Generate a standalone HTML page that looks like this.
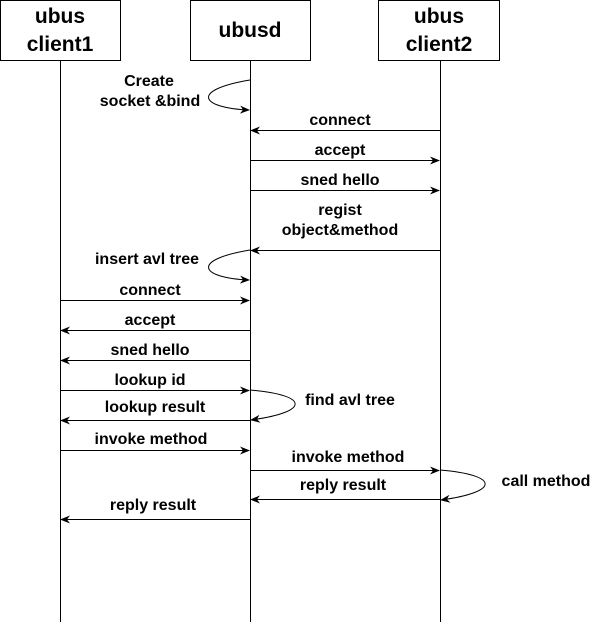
<!DOCTYPE html>
<html><head><style>html,body{margin:0;padding:0;background:#fff}</style></head>
<body>
<svg width="597" height="622" viewBox="0 0 597 622" xmlns="http://www.w3.org/2000/svg" font-family="Liberation Sans, Arial, sans-serif" font-weight="bold">
<defs>
<marker id="a" markerWidth="10" markerHeight="8" refX="9" refY="4" orient="auto" markerUnits="userSpaceOnUse">
<path d="M0,0 L10,4 L0,8 L3,4 Z" fill="#000"/>
</marker>
</defs>
<g stroke="#000" fill="none" stroke-width="1">
<line x1="60.5" y1="60" x2="60.5" y2="622"/>
<line x1="250.5" y1="60" x2="250.5" y2="622"/>
<line x1="440.5" y1="60" x2="440.5" y2="622"/>
<rect x="0.5" y="0.5" width="120" height="60" fill="#fff"/>
<rect x="190.5" y="0.5" width="120" height="60" fill="#fff"/>
<rect x="378.5" y="0.5" width="121" height="60" fill="#fff"/>
<g marker-end="url(#a)">
<path d="M250,80 C190,90 200,108 249,110"/>
<line x1="440" y1="130.5" x2="251" y2="130.5"/>
<line x1="250" y1="160.5" x2="439" y2="160.5"/>
<line x1="250" y1="190.5" x2="439" y2="190.5"/>
<line x1="440" y1="250.5" x2="251" y2="250.5"/>
<path d="M250,250 C190,260 200,278 249,280"/>
<line x1="60" y1="300.5" x2="249" y2="300.5"/>
<line x1="250" y1="330.5" x2="61" y2="330.5"/>
<line x1="250" y1="360.5" x2="61" y2="360.5"/>
<line x1="60" y1="390.5" x2="249" y2="390.5"/>
<path d="M250,390 C310,395 310,412 251,420"/>
<line x1="250" y1="420.5" x2="61" y2="420.5"/>
<line x1="60" y1="450.5" x2="249" y2="450.5"/>
<line x1="250" y1="470.5" x2="439" y2="470.5"/>
<path d="M440,470 C500,475 500,492 441,500"/>
<line x1="440" y1="499.5" x2="251" y2="499.5"/>
<line x1="250" y1="519.5" x2="61" y2="519.5"/>
</g>
</g>
<g font-size="21" text-anchor="middle" fill="#000">
<text x="60" y="23">ubus</text><text x="60" y="51">client1</text>
<text x="250" y="37">ubusd</text>
<text x="439" y="23">ubus</text><text x="439" y="51">client2</text>
</g>
<g font-size="16" text-anchor="middle" fill="#000">
<text x="149" y="86">Create</text><text x="150" y="106">socket &amp;bind</text>
<text x="340" y="125">connect</text>
<text x="340" y="155">accept</text>
<text x="340" y="185">sned hello</text>
<text x="340" y="215">regist</text><text x="340" y="235">object&amp;method</text>
<text x="147" y="264">insert avl tree</text>
<text x="150" y="295">connect</text>
<text x="150" y="325">accept</text>
<text x="150" y="355">sned hello</text>
<text x="150" y="385">lookup id</text>
<text x="350" y="405">find avl tree</text>
<text x="155" y="412">lookup result</text>
<text x="151" y="444">invoke method</text>
<text x="348" y="462">invoke method</text>
<text x="343" y="490">reply result</text>
<text x="546" y="486">call method</text>
<text x="153" y="510">reply result</text>
</g>
</svg>
</body></html>
